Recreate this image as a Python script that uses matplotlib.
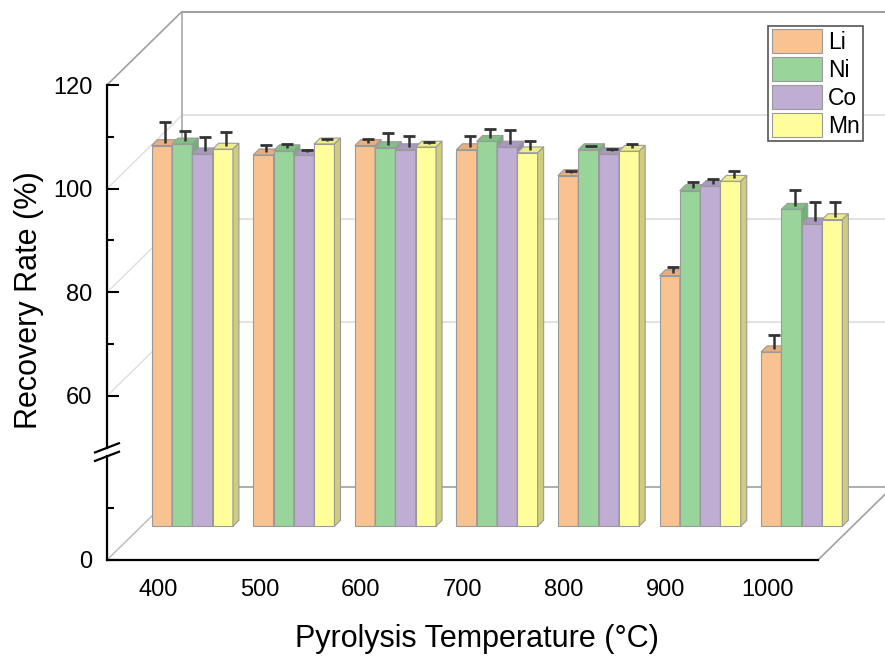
import numpy as np
import matplotlib
matplotlib.use('Agg')
import matplotlib.pyplot as plt
import matplotlib.transforms as mtransforms
from matplotlib.patches import Polygon, Patch

# DATA

temps = ['400', '500', '600', '700', '800', '900', '1000']
metals = ['Li', 'Ni', 'Co', 'Mn']
li = [101.8, 100.0, 101.8, 101.0, 96.0, 76.7, 62.0]
li_err = [3.9, 1.4, 0.7, 2.0, 0.4, 1.1, 2.7]
ni = [102.1, 100.8, 101.4, 102.6, 101.0, 93.1, 89.5]
ni_err = [2.0, 0.7, 2.2, 1.8, 0.2, 1.0, 3.2]
co = [100.2, 99.9, 101.0, 101.5, 100.2, 93.9, 86.7]
co_err = [2.7, 0.5, 2.1, 2.7, 0.3, 0.9, 3.6]
mn = [101.1, 102.1, 101.5, 100.4, 100.7, 94.9, 87.5]
mn_err = [2.7, 0.4, 0.5, 1.8, 0.8, 1.5, 2.8]

values = [li, ni, co, mn]
errors = [li_err, ni_err, co_err, mn_err]

y_major = [0, 60, 80, 100, 120]
y_minor = [10, 70, 90, 110]
y_grid = [60, 80, 100]

# STYLE

# front / top / side colours per metal
face_colors = {
    'Li': ['#f8c291', '#e9ae7d', '#d9a070'],
    'Ni': ['#99d49b', '#80c284', '#73b077'],
    'Co': ['#c0add3', '#a998bf', '#9a88ae'],
    'Mn': ['#fffe9b', '#eeec88', '#cfcd7d'],
}
edge = '#9a9a9a'
bar_w = 0.2
depth_dx = 0.75      # inches for full depth
depth_dy = 0.735
bar_d0, bar_d1 = 0.46, 0.54
gap_lo, gap_hi = 20.0, 50.0
gap_size = 1.64

plt.rcParams['font.family'] = ['Liberation Sans', 'DejaVu Sans']


def fwd(v):
    v = np.asarray(v, dtype=float)
    k = gap_size / (gap_hi - gap_lo)
    return np.where(v <= gap_lo, v,
                    np.where(v >= gap_hi, v - (gap_hi - gap_lo) + gap_size,
                             gap_lo + (v - gap_lo) * k))


def inv(u):
    u = np.asarray(u, dtype=float)
    k = gap_size / (gap_hi - gap_lo)
    return np.where(u <= gap_lo, u,
                    np.where(u >= gap_lo + gap_size, u + (gap_hi - gap_lo) - gap_size,
                             gap_lo + (u - gap_lo) / k))


fig = plt.figure(figsize=(8.85, 6.64), dpi=100)
ax = fig.add_axes([107 / 885, 104 / 664, 711 / 885, 475 / 664])
ax.set_yscale('function', functions=(fwd, inv))
ax.set_xlim(-0.5, 6.5)
ax.set_ylim(0, 120)
ax.patch.set_visible(False)

DX = depth_dx * fig.dpi
DY = depth_dy * fig.dpi


def depth_trans(d):
    return ax.transData + mtransforms.ScaledTranslation(d * depth_dx, d * depth_dy, fig.dpi_scale_trans)


def disp(x, v, d):
    p = ax.transData.transform((x, v))
    return (p[0] + d * DX, p[1] + d * DY)


def seg(p0, p1, color, lw, z):
    ax.plot([p0[0], p1[0]], [p0[1], p1[1]], color=color, lw=lw, zorder=z,
            transform=mtransforms.IdentityTransform(), clip_on=False, solid_capstyle='butt')


def poly(pts, fc, z):
    ax.add_patch(Polygon(pts, closed=True, facecolor=fc, edgecolor=edge, lw=0.8,
                         transform=mtransforms.IdentityTransform(), clip_on=False, zorder=z))


x0, x1 = ax.get_xlim()

# walls and grid
for g in y_grid:
    seg(disp(x0, g, 1), disp(x1, g, 1), '#e2e2e2', 1.5, 0.5)
    seg(disp(x0, g, 0), disp(x0, g, 1), '#e2e2e2', 1.2, 0.5)
seg(disp(x0, 120, 1), disp(x1, 120, 1), '#a0a0a0', 1.5, 0.6)
seg(disp(x0, 0, 1), disp(x1, 0, 1), '#a0a0a0', 1.2, 0.6)
seg(disp(x0, 0, 1), disp(x0, 120, 1), '#a8a8a8', 1.2, 0.6)
seg(disp(x0, 120, 0), disp(x0, 120, 1), '#a0a0a0', 1.2, 0.6)
seg(disp(x0, 0, 0), disp(x0, 0, 1), '#b8b8b8', 1.0, 0.6)
seg(disp(x1, 0, 0), disp(x1, 0, 1), '#a0a0a0', 1.2, 0.6)

# bars
xs = np.arange(len(temps))
front = depth_trans(bar_d0)
mid = depth_trans(0.5)
for gi in range(len(temps)):
    for mi, m in enumerate(metals):
        z = 2 + gi * 0.1 + mi * 0.01
        v = values[mi][gi]
        left = xs[gi] - 2 * bar_w + mi * bar_w
        fc, tc, sc = face_colors[m]
        ax.bar(left, v, bar_w, align='edge', color=fc, edgecolor=edge, lw=0.8,
               transform=front, clip_on=False, zorder=z)
        poly([disp(left, v, bar_d0), disp(left + bar_w, v, bar_d0),
              disp(left + bar_w, v, bar_d1), disp(left, v, bar_d1)], tc, z + 0.001)
        poly([disp(left + bar_w, 0, bar_d0), disp(left + bar_w, v, bar_d0),
              disp(left + bar_w, v, bar_d1), disp(left + bar_w, 0, bar_d1)], sc, z + 0.001)

# error bars (upper only, from the top face centre)
for mi, m in enumerate(metals):
    cx = xs - 2 * bar_w + (mi + 0.5) * bar_w
    top = np.array(values[mi]) + np.array(errors[mi])
    ax.vlines(cx, values[mi], top, colors='#333333', lw=1.8, transform=mid, zorder=5, clip_on=False)
    ax.plot(cx, top, ls='none', marker='_', ms=9, mew=2.0, color='#333333',
            transform=mid, zorder=5, clip_on=False)

# front axes
for s in ['top', 'right', 'left']:
    ax.spines[s].set_visible(False)
ax.spines['bottom'].set_linewidth(1.6)
ax.spines['bottom'].set_zorder(6)
yax = ax.get_yaxis_transform()
ax.plot([0, 0], [0, gap_lo], color='black', lw=1.6, transform=yax, clip_on=False, zorder=6)
ax.plot([0, 0], [gap_hi, 120], color='black', lw=1.6, transform=yax, clip_on=False, zorder=6)
for b in [gap_lo, gap_hi]:
    c = disp(x0, b, 0)
    seg((c[0] - 13, c[1] - 5), (c[0] + 13, c[1] + 5), 'black', 1.6, 6)

ax.set_yticks(y_major)
ax.set_yticks(y_minor, minor=True)
ax.tick_params(axis='y', which='major', direction='in', length=8.5, width=1.5,
               labelsize=17, pad=10.5)
ax.tick_params(axis='y', which='minor', direction='in', length=5, width=1.5)
ax.set_xticks(xs)
ax.set_xticklabels(temps)
ax.tick_params(axis='x', length=0, labelsize=17, pad=14)

ax.set_ylabel('Recovery Rate (%)', fontsize=22)
ax.yaxis.set_label_coords(-0.088, 0.547)
ax.set_xlabel('Pyrolysis Temperature (°C)', fontsize=22)
ax.xaxis.set_label_coords(0.52, -0.135)

handles = [Patch(facecolor=face_colors[m][0], edgecolor=edge, lw=0.8) for m in metals]
leg = fig.legend(handles, metals, loc='upper right', bbox_to_anchor=(863 / 885, 1 - 26 / 664),
                 fontsize=16.5, fancybox=False, framealpha=1, edgecolor='#555555',
                 handlelength=2.2, handleheight=1.2, handletextpad=0.25, labelspacing=0.15,
                 borderpad=0.15, borderaxespad=0)
leg.get_frame().set_linewidth(1.2)

fig.savefig('out.png', dpi=100)
